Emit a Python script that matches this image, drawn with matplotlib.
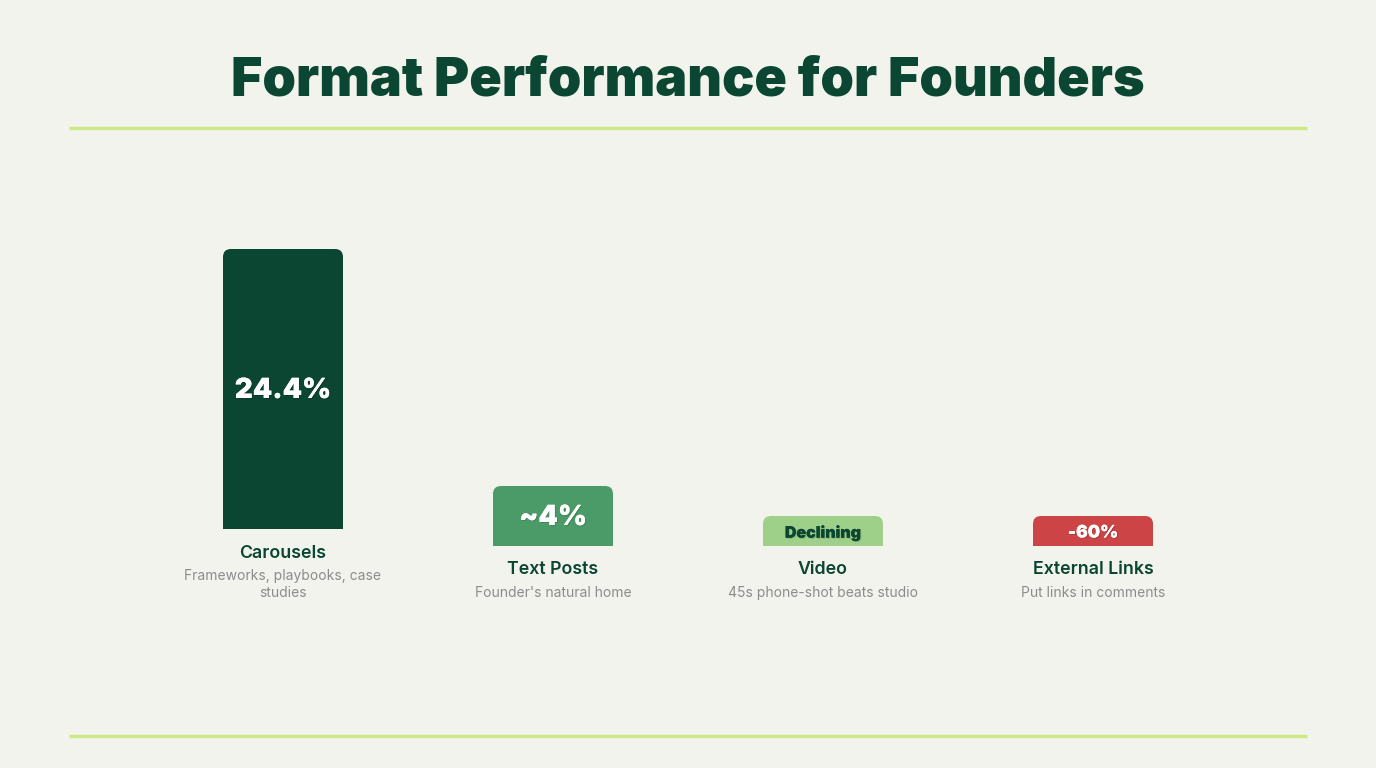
import matplotlib
matplotlib.use("Agg")
import matplotlib.pyplot as plt
from matplotlib.path import Path
from matplotlib.patches import PathPatch
import matplotlib.patheffects as pe
from matplotlib import font_manager

# ---- data ----
title = "Format Performance for Founders"
categories = ["Carousels", "Text Posts", "Video", "External Links"]
value_labels = ["24.4%", "~4%", "Declining", "-60%"]
bar_heights = [280, 60, 30, 30]          # relative display height of each bar
descriptions = [["Frameworks, playbooks, case", "studies"],
                ["Founder's natural home"],
                ["45s phone-shot beats studio"],
                ["Put links in comments"]]
bar_colors = ["#0a4632", "#4a9b67", "#9fd089", "#cc4446"]
value_colors = ["#ffffff", "#ffffff", "#0a4632", "#ffffff"]
value_sizes = [20, 20, 11.5, 12.5]

BG = "#f3f3ee"
DARK = "#0a4632"
LINE = "#cfe886"
GREY = "#8c8c8c"

names = {f.name for f in font_manager.fontManager.ttflist}
FONT = "Inter" if "Inter" in names else "DejaVu Sans"

fig = plt.figure(figsize=(13.76, 7.68), dpi=100, facecolor=BG)
ax = fig.add_axes([0, 0, 1, 1])
ax.set_xlim(0, 1376)
ax.set_ylim(768, 0)
ax.axis("off")
ax.set_facecolor(BG)

# title and rules
ax.text(688, 82, title, ha="center", va="center", fontsize=38.7, fontweight="black",
        color=DARK, family=FONT)
for y in (128, 736):
    ax.plot([69, 1307], [y, y], color=LINE, lw=2.4, solid_capstyle="butt")

def top_rounded_bar(cx, bottom, h, w, r, color):
    x0, x1 = cx - w / 2, cx + w / 2
    top = bottom - h
    r = min(r, h / 2)
    verts = [(x0, bottom), (x0, top + r), (x0, top), (x0 + r, top),
             (x1 - r, top), (x1, top), (x1, top + r), (x1, bottom), (x0, bottom)]
    codes = [Path.MOVETO, Path.LINETO, Path.CURVE3, Path.CURVE3,
             Path.LINETO, Path.CURVE3, Path.CURVE3, Path.LINETO, Path.CLOSEPOLY]
    ax.add_patch(PathPatch(Path(verts, codes), facecolor=color, edgecolor="none"))

first_center, step, width = 283, 270, 120
block_bottom = 608   # bottom of the label block
line_h = 17
shadow = [pe.withSimplePatchShadow(offset=(0.8, -0.8), shadow_rgbFace="black", alpha=0.13),
          pe.Normal()]

for i, cat in enumerate(categories):
    cx = first_center + i * step
    desc = descriptions[i]
    desc_bottom = block_bottom - 16
    desc_top = desc_bottom - (len(desc) - 1) * line_h
    name_y = desc_top - 23
    bottom = name_y - 23
    h = bar_heights[i]
    top_rounded_bar(cx, bottom, h, width, 8, bar_colors[i])
    ax.text(cx, bottom - h / 2 + 2, value_labels[i], ha="center", va="center",
            fontsize=value_sizes[i], fontweight="black", color=value_colors[i],
            family=FONT, path_effects=shadow)
    ax.text(cx, name_y + 1, cat, ha="center", va="center", fontsize=12.8,
            fontweight="semibold", color=DARK, family=FONT)
    for j, line in enumerate(desc):
        ax.text(cx, desc_top + j * line_h + 1, line, ha="center", va="center",
                fontsize=10, color=GREY, family=FONT)

fig.savefig("out.png", dpi=100, facecolor=BG)
